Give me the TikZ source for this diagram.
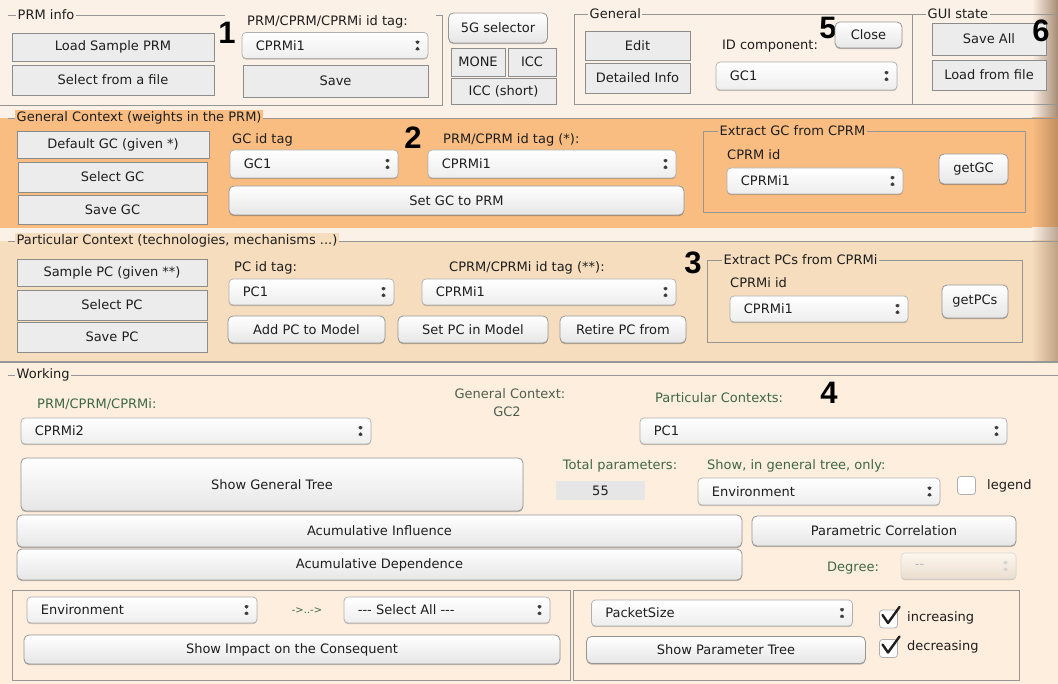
\documentclass[tikz,border=0pt]{standalone}
\usepackage{fontspec}
\setmainfont{DejaVu Sans}
\newfontfamily\numfont{Liberation Sans}
\usetikzlibrary{positioning,calc,shadows}
\definecolor{topbg}{RGB}{252,241,231}
\definecolor{gcbg}{RGB}{249,189,130}
\definecolor{pcbg}{RGB}{245,221,190}
\definecolor{wkbg}{RGB}{253,238,221}
\definecolor{rimbrown}{RGB}{110,72,40}
\definecolor{framegray}{RGB}{150,150,150}
\definecolor{btnfill}{RGB}{236,236,236}
\definecolor{btnedge}{RGB}{140,140,140}
\definecolor{macedge}{RGB}{150,150,150}
\definecolor{macbot}{RGB}{230,230,230}
\definecolor{popedge}{RGB}{175,175,175}
\definecolor{txtdark}{RGB}{30,30,30}
\definecolor{labgreen}{RGB}{62,104,66}
\definecolor{labgray}{RGB}{80,95,80}
\definecolor{arrgray}{RGB}{60,60,60}
\definecolor{fieldgray}{RGB}{230,230,230}
\newcommand{\guisize}{\fontsize{13}{15}\selectfont}
\tikzset{
  grpline/.style={draw=framegray, line width=0.9pt},
  grplab/.style={font=\guisize, text=txtdark, inner sep=1.5pt, anchor=west},
  lab/.style={font=\guisize, text=txtdark, inner sep=0pt, anchor=west},
  glab/.style={font=\guisize, text=labgreen, inner sep=0pt},
  bignum/.style={font=\numfont\bfseries\fontsize{31}{31}\selectfont, text=black, inner sep=0pt},
  flatbtn/.style={draw=btnedge, fill=btnfill, line width=0.9pt, font=\guisize, text=txtdark, inner sep=0pt},
  macbtn/.style={draw=macedge, top color=white, bottom color=macbot, rounded corners=5pt,
                 line width=0.8pt, font=\guisize, text=txtdark, inner sep=0pt,
                 drop shadow={shadow xshift=0pt, shadow yshift=-1.2pt, fill=black, opacity=0.25}},
  popup/.style={draw=popedge, top color=white, bottom color=macbot!70, rounded corners=4pt,
                line width=0.7pt, inner sep=0pt, minimum height=26pt,
                drop shadow={shadow xshift=0pt, shadow yshift=-1.2pt, fill=black, opacity=0.2},
                path picture={
                  \fill[#1] ([shift={(-14pt,1.5pt)}]path picture bounding box.east) -- ++(7pt,0pt) -- ++(-3.5pt,5.5pt) -- cycle;
                  \fill[#1] ([shift={(-14pt,-1.5pt)}]path picture bounding box.east) -- ++(7pt,0pt) -- ++(-3.5pt,-5.5pt) -- cycle;
                }},
  popup/.default=arrgray,
  poptxt/.style={font=\guisize, text=txtdark, inner sep=0pt, anchor=west},
  field/.style={fill=fieldgray, font=\guisize, text=txtdark, inner sep=0pt},
  chkbox/.style={draw=popedge, fill=white, rounded corners=3pt, line width=0.8pt, minimum size=18pt, inner sep=0pt},
  checkmark/.style={line width=2.4pt, txtdark, line join=round, line cap=round},
}
\begin{document}
\begin{tikzpicture}[x=1pt, y=-1pt]
  \useasboundingbox (0,0) rectangle (1058,684);
  % panels
  \fill[topbg] (0,0) rectangle (1058,118);
  \fill[gcbg] (0,118) rectangle (1058,228);
  \fill[topbg] (0,228) rectangle (1058,241);
  \fill[pcbg] (0,241) rectangle (1058,362);
  \fill[wkbg] (0,362) rectangle (1058,684);
  % window rim
  \shade[left color=topbg, right color=topbg!40!rimbrown] (1032,0) rectangle (1058,118);
  \shade[left color=gcbg, right color=gcbg!60!rimbrown] (1032,118) rectangle (1058,228);
  \shade[left color=topbg, right color=topbg!55!rimbrown] (1032,228) rectangle (1058,241);
  \shade[left color=pcbg, right color=pcbg!60!rimbrown] (1032,241) rectangle (1058,362);
  \draw[framegray, line width=1.6pt] (0,362) -- (1058,362);

  % PRM info
  \draw[grpline] (8,15) -- (225,15) (436,15) -- (442,15) -- (442,105) -- (0,105);
  \node[grplab, fill=topbg] (prminfo) at (16,15) {PRM info};
  \node[flatbtn, minimum width=202, minimum height=28] (loadprm) at (113,47) {Load Sample PRM};
  \node[flatbtn, minimum width=202, minimum height=30] (selfile) at (113,80) {Select from a file};
  \node[bignum] (num1) at (227,33) {1};
  \node[lab] (tagprm) at (247,22) {PRM/CPRM/CPRMi id tag:};
  \node[popup, minimum width=186] (tagpop) at (335,45.5) {};
  \node[poptxt, right=14pt of tagpop.west] {CPRMi1};
  \node[flatbtn, minimum width=185, minimum height=32] (saveprm) at (335.5,81) {Save};

  % selector buttons
  \node[macbtn, minimum width=99, minimum height=30] (fiveg) at (498,28) {5G selector};
  \node[flatbtn, minimum width=54, minimum height=28] (mone) at (478,62) {MONE};
  \node[flatbtn, minimum width=48, minimum height=28] (icc) at (532,62) {ICC};
  \node[flatbtn, minimum width=105, minimum height=26] (iccshort) at (503.5,91) {ICC (short)};

  % General
  \draw[grpline] (574,14) rectangle (912,104);
  \draw[grpline] (912,14) -- (1058,14) (912,104) -- (1058,104);
  \node[grplab, fill=topbg] (general) at (588,14) {General};
  \node[flatbtn, minimum width=105, minimum height=29] (edit) at (637.5,45.5) {Edit};
  \node[flatbtn, minimum width=105, minimum height=30] (detinfo) at (637.5,78) {Detailed Info};
  \node[font=\guisize, text=txtdark, inner sep=0pt] (idcomp) at (770,46) {ID component:};
  \node[bignum] (num5) at (828,28) {5};
  \node[macbtn, minimum width=67, minimum height=26] (close) at (868.5,35) {Close};
  \node[popup, minimum width=181, minimum height=28] (idpop) at (806.5,76) {};
  \node[poptxt, right=14pt of idpop.west] {GC1};

  % GUI state
  \node[grplab, fill=topbg] (guistate) at (926,14) {GUI state};
  \node[flatbtn, minimum width=114, minimum height=32] (saveall) at (989,39) {Save All};
  \node[flatbtn, minimum width=114, minimum height=30] (loadfile) at (989,75) {Load from file};
  \node[bignum] (num6) at (1041,31) {6};

  % General Context
  \draw[grpline] (8,118) -- (1058,118);
  \node[grplab, fill=gcbg] (gclab) at (15,118) {General Context (weights in the PRM)};
  \node[flatbtn, minimum width=192, minimum height=27] (defgc) at (113,144.5) {Default GC (given *)};
  \node[flatbtn, minimum width=189, minimum height=30] (selgc) at (112.5,177) {Select GC};
  \node[flatbtn, minimum width=189, minimum height=29] (savegc) at (112.5,209.5) {Save GC};
  \node[lab] (gctag) at (232,140) {GC id tag};
  \node[bignum] (num2) at (413,138) {2};
  \node[lab] (gcprmtag) at (443,140) {PRM/CPRM id tag (*):};
  \node[popup, minimum width=168, minimum height=28] (gctagpop) at (314,164) {};
  \node[poptxt, right=14pt of gctagpop.west] {GC1};
  \node[popup, minimum width=248, minimum height=28] (gcprmpop) at (552,164) {};
  \node[poptxt, right=14pt of gcprmpop.west] {CPRMi1};
  \node[macbtn, minimum width=455, minimum height=29] (setgc) at (456.5,200.5) {Set GC to PRM};
  \draw[grpline] (703,131) rectangle (1025,212);
  \node[grplab, fill=gcbg] (xgclab) at (718,131) {Extract GC from CPRM};
  \node[lab] (cprmid) at (727,155) {CPRM id};
  \node[popup, minimum width=176] (xgcid) at (815,181) {};
  \node[poptxt, right=14pt of xgcid.west] {CPRMi1};
  \node[macbtn, minimum width=69, minimum height=30] (getgc) at (973.5,169) {getGC};

  % Particular Context
  \draw[grpline] (8,241) -- (1058,241);
  \node[grplab, fill=pcbg] (pclab) at (15,241) {Particular Context (technologies, mechanisms ...)};
  \node[flatbtn, minimum width=190, minimum height=27] (samplepc) at (112,272.5) {Sample PC (given **)};
  \node[flatbtn, minimum width=190, minimum height=30] (selpc) at (112,305) {Select PC};
  \node[flatbtn, minimum width=190, minimum height=30] (savepc) at (112,337) {Save PC};
  \node[lab] (pctag) at (234,268) {PC id tag:};
  \node[lab] (pcprmtag) at (449,268) {CPRM/CPRMi id tag (**):};
  \node[popup, minimum width=165] (pctagpop) at (311.5,292) {};
  \node[poptxt, right=14pt of pctagpop.west] {PC1};
  \node[popup, minimum width=254] (pcprmpop) at (549,292) {};
  \node[poptxt, right=14pt of pcprmpop.west] {CPRMi1};
  \node[macbtn, minimum width=157, minimum height=27] (addpc) at (306.5,329.5) {Add PC to Model};
  \node[macbtn, minimum width=150, minimum height=27] (setpc) at (473,329.5) {Set PC in Model};
  \node[macbtn, minimum width=126, minimum height=27] (retirepc) at (623,329.5) {Retire PC from};
  \node[bignum] (num3) at (693,263) {3};
  \draw[grpline] (707,260) rectangle (1022,342);
  \node[grplab, fill=pcbg] (xpclab) at (722,260) {Extract PCs from CPRMi};
  \node[lab] (cprmiid) at (730,283) {CPRMi id};
  \node[popup, minimum width=178] (xpcid) at (819,309) {};
  \node[poptxt, right=14pt of xpcid.west] {CPRMi1};
  \node[macbtn, minimum width=66, minimum height=33] (getpcs) at (975,301.5) {getPCs};

  % Working
  \draw[grpline] (8,375) -- (1058,375);
  \node[grplab, fill=wkbg] (wklab) at (15,375) {Working};
  \node[glab, anchor=west] (wprmlab) at (37,404) {PRM/CPRM/CPRMi:};
  \node[glab, text=labgray] (gcctx) at (510,394) {General Context:};
  \node[glab, text=labgray] (gcval) at (507,412) {GC2};
  \node[glab, anchor=west] (pcctx) at (655,398) {Particular Contexts:};
  \node[bignum] (num4) at (829,393) {4};
  \node[popup, minimum width=350] (wprm) at (196,431) {};
  \node[poptxt, right=14pt of wprm.west] {CPRMi2};
  \node[popup, minimum width=367] (wpc) at (823.5,431) {};
  \node[poptxt, right=14pt of wpc.west] {PC1};
  \node[macbtn, minimum width=502, minimum height=53] (showgt) at (272,484.5) {Show General Tree};
  \node[glab] (totlab) at (620,466) {Total parameters:};
  \node[field, minimum width=89, minimum height=19] (totpar) at (600.5,490.5) {55};
  \node[glab, anchor=west] (onlylab) at (707,466) {Show, in general tree, only:};
  \node[popup, minimum width=242, minimum height=27] (envpop) at (819,491.5) {};
  \node[poptxt, right=14pt of envpop.west] {Environment};
  \node[chkbox] (legbox) at (966.5,485.5) {};
  \node[lab] (leglab) at (987,486) {legend};
  \node[macbtn, minimum width=725, minimum height=32] (acinf) at (379.5,531) {Acumulative Influence};
  \node[macbtn, minimum width=725, minimum height=31] (acdep) at (379.5,564.5) {Acumulative Dependence};
  \node[macbtn, minimum width=264, minimum height=30] (parcor) at (884,531) {Parametric Correlation};
  \node[glab, anchor=west] (deglab) at (827,568) {Degree:};
  \node[popup=gray!35, draw=gray!30, top color=wkbg!50!white, bottom color=wkbg!85!gray,
        drop shadow={opacity=0}, minimum width=115] (degpop) at (958.5,566) {};
  \node[poptxt, text=gray!55, right=14pt of degpop.west] {-{}-};

  % impact box
  \draw[grpline] (12,590) rectangle (570,680);
  \node[popup, minimum width=230] (envsel) at (142,610) {};
  \node[poptxt, right=14pt of envsel.west] {Environment};
  \node[glab, font=\fontsize{10}{12}\selectfont] (chain) at (307,611) {->..->};
  \node[popup, minimum width=206] (selall) at (447,610) {};
  \node[poptxt, right=14pt of selall.west] {-{}-{}- Select All -{}-{}-};
  \node[macbtn, minimum width=536, minimum height=29] (impact) at (292,649.5) {Show Impact on the Consequent};

  % parameter tree box
  \draw[grpline] (573,590) rectangle (1019,680);
  \node[popup, minimum width=261] (pktpop) at (722,613) {};
  \node[poptxt, right=14pt of pktpop.west] {PacketSize};
  \node[macbtn, minimum width=279, minimum height=27] (showpt) at (726,650) {Show Parameter Tree};
  \node[chkbox] (incbox) at (888.5,619) {};
  \draw[checkmark] ([shift={(-6,-4)}]incbox.center) -- ++(5.5,8) -- ++(11.5,-16);
  \node[lab] (inclab) at (907,618) {increasing};
  \node[chkbox] (decbox) at (888.5,648.5) {};
  \draw[checkmark] ([shift={(-6,-4)}]decbox.center) -- ++(5.5,8) -- ++(11.5,-16);
  \node[lab] (declab) at (907,647) {decreasing};
\end{tikzpicture}
\end{document}
